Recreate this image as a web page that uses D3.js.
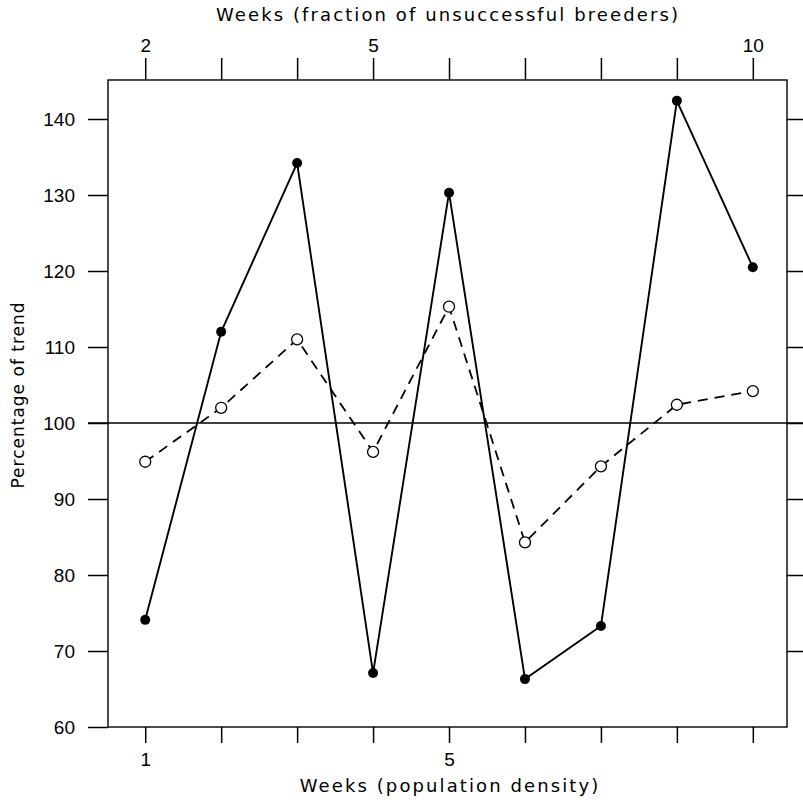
<!DOCTYPE html>
<html>
<head>
<meta charset="utf-8">
<script src="https://cdn.jsdelivr.net/npm/d3@7"></script>
<style>
  body { margin: 0; background: #fff; }
  svg { display: block; }
</style>
</head>
<body>
<script>
// Data
const weeks = [1, 2, 3, 4, 5, 6, 7, 8, 9];
const densityPct = [74.1, 112, 134.2, 67.1, 130.3, 66.3, 73.3, 142.4, 120.5];
const breedersPct = [94.9, 102, 111, 96.2, 115.3, 84.3, 94.3, 102.4, 104.2];
const yTicks = [60, 70, 80, 90, 100, 110, 120, 130, 140];
const bottomTicks = [1, 2, 3, 4, 5, 6, 7, 8, 9];
const bottomLabels = [1, 5];
const topTicks = [2, 3, 4, 5, 6, 7, 8, 9, 10];
const topLabels = [2, 5, 10];

const width = 803, height = 802;
const box = { left: 108, right: 787, top: 80, bottom: 727 };

const svg = d3.select("body").append("svg")
    .attr("width", width)
    .attr("height", height)
    .attr("font-family", "DejaVu Sans");

// Scales
const x = d3.scaleLinear().domain([0.51, 9.45]).range([box.left, box.right]);
const xTop = d3.scaleLinear().domain([1.51, 10.45]).range([box.left, box.right]);
const y = d3.scaleLinear().domain([60, 145]).range([box.bottom, box.bottom - 85 * 7.6]);

// Frame
svg.append("rect")
    .attr("x", box.left).attr("y", box.top)
    .attr("width", box.right - box.left).attr("height", box.bottom - box.top)
    .attr("fill", "none").attr("stroke", "#000").attr("stroke-width", 1.4);

function styleAxis(g) {
    g.select(".domain").remove();
    g.selectAll(".tick line").attr("stroke", "#000").attr("stroke-width", 1.5);
    g.selectAll(".tick text")
        .attr("fill", "#000")
        .attr("font-family", "Liberation Sans")
        .attr("font-size", 19);
}

// Left axis
svg.append("g")
    .attr("transform", `translate(${box.left},0)`)
    .call(d3.axisLeft(y).tickValues(yTicks).tickSize(20).tickPadding(13))
    .call(styleAxis);

// Right axis (ticks only)
svg.append("g")
    .attr("transform", `translate(${box.right},0)`)
    .call(d3.axisRight(y).tickValues(yTicks.slice(1)).tickSize(20).tickFormat(""))
    .call(styleAxis);

// Bottom axis
svg.append("g")
    .attr("transform", `translate(0,${box.bottom})`)
    .call(d3.axisBottom(x).tickValues(bottomTicks).tickSize(16).tickPadding(10)
        .tickFormat(d => bottomLabels.includes(d) ? d : ""))
    .call(styleAxis);

// Top axis
svg.append("g")
    .attr("transform", `translate(0,${box.top})`)
    .call(d3.axisTop(xTop).tickValues(topTicks).tickSize(22).tickPadding(6)
        .tickFormat(d => topLabels.includes(d) ? d : ""))
    .call(styleAxis);

// 100 % reference line
svg.append("line")
    .attr("x1", box.left - 20).attr("x2", width)
    .attr("y1", y(100)).attr("y2", y(100))
    .attr("stroke", "#000").attr("stroke-width", 1.4);

// Axis titles
svg.append("text")
    .attr("x", 448).attr("y", 21)
    .attr("text-anchor", "middle")
    .attr("font-size", 18).attr("letter-spacing", 2.1)
    .text("Weeks (fraction of unsuccessful breeders)");

svg.append("text")
    .attr("x", 450).attr("y", 792)
    .attr("text-anchor", "middle")
    .attr("font-size", 18).attr("letter-spacing", 2.1)
    .text("Weeks (population density)");

svg.append("text")
    .attr("transform", `translate(24,${y(100) - 28}) rotate(-90)`)
    .attr("text-anchor", "middle")
    .attr("font-size", 17).attr("letter-spacing", 1)
    .text("Percentage of trend");

// Lines
const line = d3.line().x((d, i) => x(weeks[i])).y(d => y(d));

svg.append("path")
    .datum(breedersPct)
    .attr("d", line)
    .attr("fill", "none").attr("stroke", "#000")
    .attr("stroke-width", 1.8).attr("stroke-dasharray", "10,7");

svg.append("path")
    .datum(densityPct)
    .attr("d", line)
    .attr("fill", "none").attr("stroke", "#000")
    .attr("stroke-width", 1.9);

// Markers
svg.append("g").selectAll("circle")
    .data(breedersPct)
    .join("circle")
    .attr("cx", (d, i) => x(weeks[i]))
    .attr("cy", d => y(d))
    .attr("r", 5.5)
    .attr("fill", "#fff").attr("stroke", "#000").attr("stroke-width", 1.3);

svg.append("g").selectAll("circle")
    .data(densityPct)
    .join("circle")
    .attr("cx", (d, i) => x(weeks[i]))
    .attr("cy", d => y(d))
    .attr("r", 5)
    .attr("fill", "#000");
</script>
</body>
</html>
